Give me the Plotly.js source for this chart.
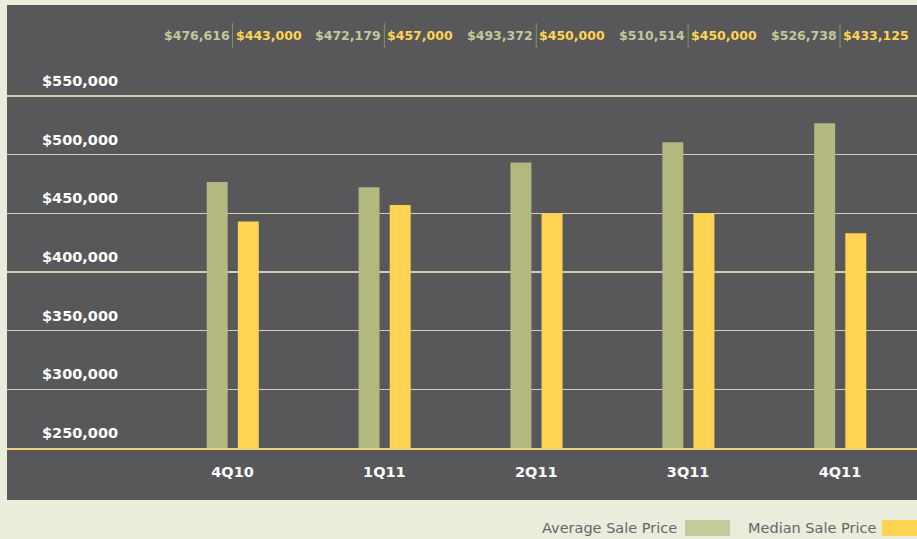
<!DOCTYPE html>
<html>
<head>
<meta charset="utf-8">
<script src="https://cdn.plot.ly/plotly-3.0.1.min.js"></script>
<style>
html,body{margin:0;padding:0;background:#eaecdc;}
#chart{width:917px;height:539px;}
</style>
</head>
<body>
<div id="chart"></div>
<script>
// ---- data ----
const quarters = ["4Q10", "1Q11", "2Q11", "3Q11", "4Q11"];
const averageSalePrice = [476616, 472179, 493372, 510514, 526738];
const medianSalePrice = [443000, 457000, 450000, 450000, 433125];
const yTickValues = [250000, 300000, 350000, 400000, 450000, 500000, 550000];
const yTickLabels = ["$250,000", "$300,000", "$350,000", "$400,000", "$450,000", "$500,000", "$550,000"];
const seriesNames = ["Average Sale Price", "Median Sale Price"];

// ---- styling ----
const W = 917, H = 539;
const M = {l: 7, r: 0, t: 5, b: 91};
const plotW = W - M.l - M.r, plotH = H - M.t - M.b;
const px2xp = px => (px - M.l) / plotW;
const py2yp = py => (H - M.b - py) / plotH;

const darkBg = "#58585a";
const avgColor = "#b3b87e";
const avgSwatch = "#c5c99c";
const avgText = "#c3c79c";
const medColor = "#ffd452";
const fontFam = "'DejaVu Sans', Verdana, sans-serif";
const fmt = v => "$" + v.toLocaleString("en-US");

const traces = [
  {type: "bar", name: seriesNames[0], x: quarters, y: averageSalePrice,
   marker: {color: avgColor}, width: 0.138, offset: -0.17, hoverinfo: "x+y"},
  {type: "bar", name: seriesNames[1], x: quarters, y: medianSalePrice,
   marker: {color: medColor}, width: 0.138, offset: 0.035, hoverinfo: "x+y"}
];

const annotations = [];
const shapes = [];

// dark panel extending below the plot area
shapes.push({type: "rect", xref: "paper", yref: "paper", x0: 0, x1: 1.01,
  y0: py2yp(500), y1: 0, fillcolor: darkBg, line: {width: 0}, layer: "below"});

// y tick labels (inside, above the gridline)
yTickValues.forEach((v, i) => {
  annotations.push({xref: "paper", yref: "y", x: px2xp(40), y: v, xanchor: "left",
    yanchor: "bottom", yshift: 5, text: yTickLabels[i], showarrow: false,
    font: {family: fontFam, size: 14.5, color: "#ffffff", weight: 700}});
});

// top value labels with separators
quarters.forEach((q, i) => {
  annotations.push({xref: "x", yref: "paper", x: i, y: py2yp(35), xanchor: "right",
    yanchor: "middle", xshift: -1, text: fmt(averageSalePrice[i]), showarrow: false,
    font: {family: fontFam, size: 12.5, color: avgText, weight: 700}});
  annotations.push({xref: "x", yref: "paper", x: i, y: py2yp(35), xanchor: "left",
    yanchor: "middle", xshift: 1, text: fmt(medianSalePrice[i]), showarrow: false,
    font: {family: fontFam, size: 12.5, color: medColor, weight: 700}});
  shapes.push({type: "line", xref: "x", yref: "paper", x0: i, x1: i,
    y0: py2yp(48), y1: py2yp(23), line: {color: "#8e8f5c", width: 1}});
});

// legend (text then swatch)
const legendItems = [
  {name: seriesNames[0], color: avgSwatch, textRight: 679, sw0: 685, sw1: 730},
  {name: seriesNames[1], color: medColor, textRight: 878, sw0: 882, sw1: 930}
];
legendItems.forEach(it => {
  annotations.push({xref: "paper", yref: "paper", x: px2xp(it.textRight), y: py2yp(528),
    xanchor: "right", yanchor: "middle", text: it.name, showarrow: false,
    font: {family: fontFam, size: 14.5, color: "#676767"}});
  shapes.push({type: "rect", xref: "paper", yref: "paper", x0: px2xp(it.sw0), x1: px2xp(it.sw1),
    y0: py2yp(536), y1: py2yp(520), fillcolor: it.color, line: {width: 0}});
});

const layout = {
  width: W, height: H,
  margin: M,
  paper_bgcolor: "#eaecdc",
  plot_bgcolor: darkBg,
  showlegend: false,
  barmode: "group",
  xaxis: {
    type: "category",
    range: [-1.485, 4.507],
    showgrid: false,
    zeroline: false,
    showline: true, linecolor: "#f3d37e", linewidth: 1.5,
    ticks: "", ticklabelstandoff: 10,
    tickfont: {family: fontFam, size: 14.5, color: "#ffffff", weight: 700},
    fixedrange: true
  },
  yaxis: {
    range: [250000, 627550],
    tickvals: yTickValues,
    showticklabels: false,
    showgrid: true, gridcolor: "#cfd1b0", gridwidth: 1.3,
    zeroline: false, showline: false, ticks: "",
    fixedrange: true
  },
  annotations: annotations,
  shapes: shapes
};

Plotly.newPlot("chart", traces, layout, {displayModeBar: false, staticPlot: true});
</script>
</body>
</html>
